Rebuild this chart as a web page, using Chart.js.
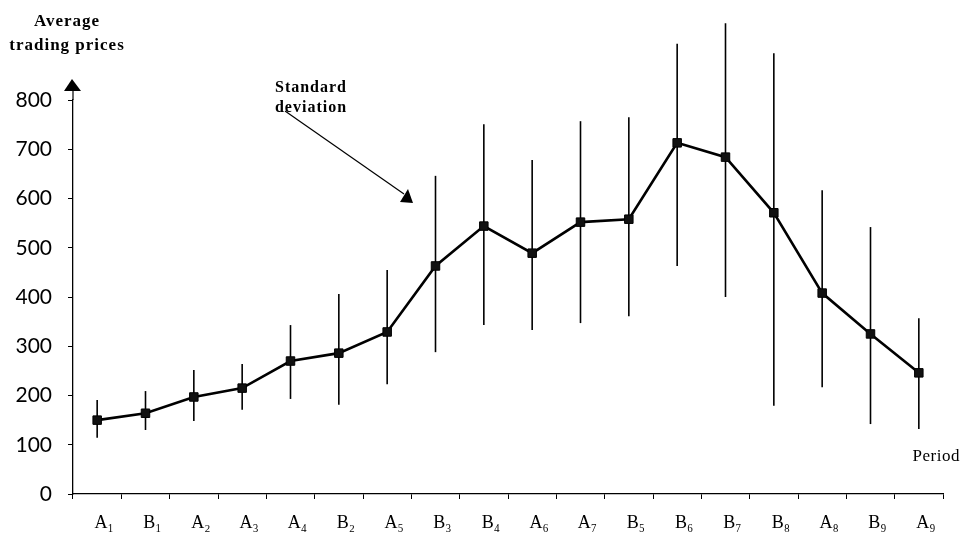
<!DOCTYPE html>
<html>
<head>
<meta charset="utf-8">
<script src="https://cdn.jsdelivr.net/npm/chart.js@4"></script>
<style>
  body { margin: 0; background: #fff; }
</style>
</head>
<body>
<canvas id="myChart" width="961" height="542"></canvas>
<script>
const categories = ["A₁", "B₁", "A₂", "A₃", "A₄", "B₂", "A₅", "B₃", "B₄", "A₆", "A₇", "B₅", "B₆", "B₇", "B₈", "A₈", "B₉", "A₉"];
const meanPrices = [150, 164, 197, 215, 270, 286, 329, 463, 544, 489, 552, 558, 713, 684, 571, 408, 325, 246];
const upperBounds = [191, 209, 252, 264, 343, 406, 455, 646, 751, 678, 757, 765, 914, 956, 895, 617, 542, 357];
const lowerBounds = [114, 130, 148, 171, 193, 181, 223, 288, 343, 333, 347, 361, 463, 400, 179, 217, 142, 132];
const yTickValues = [0, 100, 200, 300, 400, 500, 600, 700, 800];

const serif = "'Liberation Serif', 'Times New Roman', serif";

// vertical standard deviation lines, drawn under the points
const errorBars = {
    id: "errorBars",
    beforeDatasetsDraw(chart) {
        const ctx = chart.ctx;
        const y = chart.scales.y;
        const meta = chart.getDatasetMeta(0);
        ctx.save();
        ctx.strokeStyle = "#000";
        ctx.lineWidth = 1.6;
        meta.data.forEach((pt, i) => {
            ctx.beginPath();
            ctx.moveTo(pt.x, y.getPixelForValue(upperBounds[i]));
            ctx.lineTo(pt.x, y.getPixelForValue(lowerBounds[i]));
            ctx.stroke();
        });
        ctx.restore();
    },
};

// axis arrow, axis titles and the "Standard deviation" note
const decorations = {
    id: "decorations",
    afterDraw(chart) {
        const ctx = chart.ctx;
        const area = chart.chartArea;
        ctx.save();
        ctx.strokeStyle = "#000";
        ctx.fillStyle = "#000";
        ctx.lineWidth = 1.2;

        // y axis arrow
        ctx.beginPath();
        ctx.moveTo(area.left, area.top);
        ctx.lineTo(area.left, area.top - 10);
        ctx.stroke();
        ctx.beginPath();
        ctx.moveTo(area.left - 1, area.top - 21);
        ctx.lineTo(area.left - 9, area.top - 9);
        ctx.lineTo(area.left + 8, area.top - 9);
        ctx.closePath();
        ctx.fill();

        ctx.textAlign = "center";
        ctx.textBaseline = "middle";
        ctx.letterSpacing = "1px";
        ctx.font = "bold 17px " + serif;
        ctx.fillText("Average", 67, 22);
        ctx.fillText("trading prices", 67, 46);

        ctx.font = "bold 16px " + serif;
        ctx.fillText("Standard", 311, 88);
        ctx.fillText("deviation", 311, 108);

        // annotation arrow
        ctx.lineWidth = 1.2;
        ctx.beginPath();
        ctx.moveTo(285, 111);
        ctx.lineTo(404, 194);
        ctx.stroke();
        ctx.beginPath();
        ctx.moveTo(408, 189);
        ctx.lineTo(413, 203);
        ctx.lineTo(400, 202);
        ctx.closePath();
        ctx.fill();

        ctx.letterSpacing = "0.5px";
        ctx.textAlign = "right";
        ctx.font = "17px " + serif;
        ctx.fillText("Period", 960, 457);
        ctx.restore();
    },
};

new Chart(document.getElementById("myChart"), {
    type: "line",
    data: {
        labels: categories,
        datasets: [
            {
                data: meanPrices,
                borderColor: "#000",
                borderWidth: 2.6,
                pointStyle: "rect",
                pointRadius: 6,
                pointBackgroundColor: "#111",
                pointBorderColor: "#000",
                pointBorderWidth: 1,
                tension: 0,
                clip: false,
            },
        ],
    },
    options: {
        responsive: false,
        animation: false,
        events: [],
        layout: { padding: { left: 0, top: 100, right: 18, bottom: 0 } },
        plugins: {
            legend: { display: false },
            tooltip: { enabled: false },
        },
        scales: {
            x: {
                offset: true,
                grid: {
                    offset: true,
                    drawOnChartArea: false,
                    drawTicks: true,
                    tickLength: 5,
                    color: "#000",
                    lineWidth: 1,
                },
                border: { color: "#000", width: 1.3 },
                ticks: {
                    color: "#000",
                    padding: 13,
                    labelOffset: 7,
                    maxRotation: 0,
                    autoSkip: false,
                    font: { family: serif, size: 18 },
                },
                afterFit(scale) {
                    scale.height = 48;
                },
            },
            y: {
                min: 0,
                max: 800,
                grid: {
                    drawOnChartArea: false,
                    drawTicks: true,
                    tickLength: 5,
                    color: "#000",
                    lineWidth: 1,
                },
                border: { color: "#000", width: 1.3 },
                afterBuildTicks(scale) {
                    scale.ticks = yTickValues.map((v) => ({ value: v }));
                },
                ticks: {
                    color: "#000",
                    padding: 16,
                    font: { family: "Lato", size: 21 },
                },
                afterFit(scale) {
                    scale.width = 73;
                },
            },
        },
    },
    plugins: [errorBars, decorations],
});
</script>
</body>
</html>
